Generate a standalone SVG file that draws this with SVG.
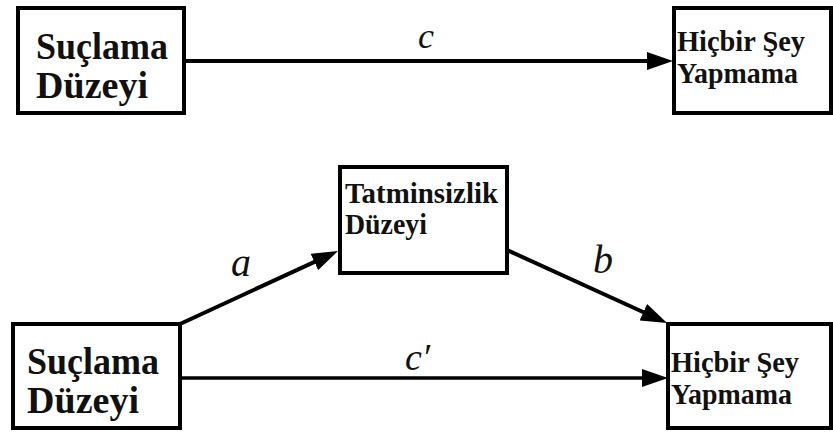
<svg xmlns="http://www.w3.org/2000/svg" width="833" height="432" viewBox="0 0 833 432">
  <style>
    .box { fill: #ffffff; stroke: #000000; stroke-width: 4; }
    .lbl { font-family: "Liberation Serif", serif; font-weight: bold; fill: #111111; }
    .big { font-size: 38px; }
    .small { font-size: 29px; }
    .path { font-family: "Liberation Serif", serif; font-style: italic; fill: #111111; }
    .conn { stroke: #000000; stroke-width: 4; fill: none; marker-end: url(#arrow); }
  </style>
  <defs>
    <marker id="arrow" viewBox="0 0 26 18" refX="2" refY="9" markerWidth="26" markerHeight="18" markerUnits="userSpaceOnUse" orient="auto">
      <path d="M0,0 L26,9 L0,18 z" fill="#000000"/>
    </marker>
  </defs>
  <rect width="833" height="432" fill="#ffffff"/>

  <g id="connectors">
    <line class="conn" x1="184" y1="61" x2="649" y2="61"/>
    <line class="conn" x1="180" y1="324" x2="316.2" y2="261.1"/>
    <line class="conn" x1="507" y1="250" x2="645.2" y2="313"/>
    <line class="conn" x1="180" y1="378" x2="644" y2="378" style="stroke-width:3.5"/>
    <text class="path" x="418" y="48" font-size="36">c</text>
    <text class="path" x="231" y="276" font-size="40">a</text>
    <text class="path" x="593" y="273" font-size="40">b</text>
    <text class="path" x="405" y="370" font-size="38">c′</text>
  </g>

  <g id="top-suclama">
    <rect class="box" x="18" y="8" width="166" height="105"/>
    <text class="lbl big" x="36" y="59" textLength="132" lengthAdjust="spacingAndGlyphs">Suçlama</text>
    <text class="lbl big" x="36" y="98" textLength="112" lengthAdjust="spacingAndGlyphs">Düzeyi</text>
  </g>

  <g id="top-hicbir">
    <rect class="box" x="674" y="8" width="157" height="105"/>
    <text class="lbl small" x="677" y="51" textLength="128" lengthAdjust="spacingAndGlyphs">Hiçbir Şey</text>
    <text class="lbl small" x="677" y="83" textLength="121" lengthAdjust="spacingAndGlyphs">Yapmama</text>
  </g>

  <g id="tatminsizlik">
    <rect class="box" x="340" y="167" width="167" height="106"/>
    <text class="lbl small" x="345" y="203" textLength="153" lengthAdjust="spacingAndGlyphs">Tatminsizlik</text>
    <text class="lbl small" x="345" y="234" textLength="82" lengthAdjust="spacingAndGlyphs">Düzeyi</text>
  </g>

  <g id="bottom-suclama">
    <rect class="box" x="13" y="324" width="167" height="104"/>
    <text class="lbl big" x="27" y="374" textLength="132" lengthAdjust="spacingAndGlyphs">Suçlama</text>
    <text class="lbl big" x="27" y="413" textLength="112" lengthAdjust="spacingAndGlyphs">Düzeyi</text>
  </g>

  <g id="bottom-hicbir">
    <rect class="box" x="668" y="324" width="163" height="104"/>
    <text class="lbl small" x="671" y="372" textLength="128" lengthAdjust="spacingAndGlyphs">Hiçbir Şey</text>
    <text class="lbl small" x="671" y="404" textLength="121" lengthAdjust="spacingAndGlyphs">Yapmama</text>
  </g>
</svg>
